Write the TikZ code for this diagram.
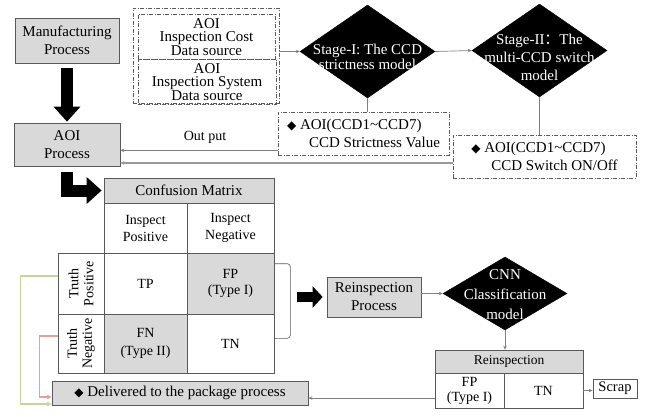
\documentclass[tikz,border=0pt]{standalone}
\usepackage{fontspec}
\setmainfont{Liberation Serif}
\newfontfamily\symfont{DejaVu Sans}
\newfontfamily\cjkfont{Noto Sans CJK SC}
\usetikzlibrary{shapes.geometric,arrows.meta,calc}
\definecolor{boxgray}{HTML}{D9D9D9}
\definecolor{edgegray}{HTML}{595959}
\definecolor{linkgray}{HTML}{7F7F7F}
\definecolor{okgreen}{HTML}{C4D79B}
\definecolor{badred}{HTML}{E6A095}
\newcommand{\szA}{\fontsize{15}{18}\selectfont}
\newcommand{\szB}{\fontsize{14}{17}\selectfont}
\newcommand{\szC}{\fontsize{13.5}{15}\selectfont}
\newcommand{\szS}{\fontsize{15}{13.5}\selectfont}
\newcommand{\bullmark}{{\symfont\fontsize{12}{12}\selectfont ◆}}
\tikzset{
  gbox/.style={draw=edgegray, fill=boxgray, line width=0.7pt, inner sep=0pt, align=center, font=\szA},
  cell/.style={draw=edgegray, line width=0.6pt, inner sep=0pt, align=center, font=\szB},
  gcell/.style={cell, fill=boxgray},
  ddbox/.style={draw=edgegray, line width=0.7pt, dash pattern=on 4pt off 1.5pt on 1pt off 1.5pt, inner sep=0pt, align=center},
  decide/.style={diamond, fill=black, draw=black, inner sep=0pt},
  dtext/.style={text=white, align=center, font=\szA},
  link/.style={draw=linkgray, line width=0.7pt, -{Stealth[length=4pt,width=3.5pt]}},
  link2/.style={draw=linkgray!80, line width=1.2pt, -{Stealth[length=4pt,width=3.5pt]}},
  plain/.style={draw=linkgray, line width=0.7pt},
  feedback/.style={line width=1.2pt, -{Stealth[length=5pt,width=5pt]}},
  bigarrow/.style={line width=12pt, -{Triangle[length=15pt,width=26pt]}},
  midarrow/.style={line width=10pt, -{Triangle[length=10pt,width=21pt]}},
}
\begin{document}
\begin{tikzpicture}[x=1pt,y=-1pt]
\useasboundingbox (0,0) rectangle (654,420);

% process boxes
\node[gbox, minimum width=104pt, minimum height=45pt] (mfg) at (67,40.5) {Manufacturing\\Process};
\node[gbox, minimum width=106pt, minimum height=43pt] (aoi) at (67,144.5) {AOI\\Process};

% data sources
\node[ddbox, minimum width=146pt, minimum height=95pt] (src) at (206,55.5) {};
\node[ddbox, minimum width=137pt, minimum height=45pt, font=\szS] (srca) at (206.5,37) {AOI\\Inspection Cost\\Data source};
\node[ddbox, minimum width=138pt, minimum height=45pt, font=\szS] (srcb) at (207,82) {AOI\\Inspection System\\Data source};

% decision models
\node[decide, minimum width=135pt, minimum height=93pt] (d1) at (367.5,51.5) {};
\node[dtext, font=\fontsize{15}{15}\selectfont] (d1t) at (367.5,57) {Stage-I: The CCD\\strictness model};
\node[decide, minimum width=135pt, minimum height=93pt] (d2) at (539.5,50.5) {};
\node[dtext] (d2t) at (539.5,57) {Stage-II{\cjkfont ：}The\\multi-CCD switch\\model};

% model outputs
\node[ddbox, minimum width=171pt, minimum height=43pt, align=left, font=\szA] (sv) at (363.5,133.5)
  {\bullmark\ AOI(CCD1\textasciitilde CCD7)\\\hspace*{22pt}CCD Strictness Value};
\node[ddbox, minimum width=183pt, minimum height=43pt, align=left, font=\szA] (sw) at (544.5,156.5)
  {\bullmark\ AOI(CCD1\textasciitilde CCD7)\\\hspace*{20pt}CCD Switch ON/Off};

\draw[link] (src.east |- d1.west) -- (d1.west);
\draw[link] (d1.east) -- (d2.west);
\draw[plain] (d1.south) -- (d1.south |- sv.north);
\draw[plain] (d2.south) -- (d2.south |- sw.north);

\coordinate (o1) at ([yshift=5pt]sv.south west);
\draw[link] (o1) -- (aoi.east |- o1);
\node[font=\szB] (outlbl) at (205,137) {Out put};
\coordinate (o2) at ([yshift=-6.5pt]sw.west);
\draw[link2] (o2) -- (aoi.east |- o2);

% flow arrows
\draw[bigarrow, shorten >=1pt] ([yshift=-5pt]mfg.south) -- (aoi.north);

% confusion matrix
\node[gbox, minimum width=170pt, minimum height=25pt] (cmh) at (189,190.5) {Confusion Matrix};
\node[cell, minimum width=83pt, minimum height=50pt] (ip) at (145.5,228) {Inspect\\Positive};
\node[cell, minimum width=87pt, minimum height=50pt] (inn) at (230.5,228) {Inspect\\Negative};
\node[cell, minimum width=83pt, minimum height=61pt] (tp) at (145.5,283.5) {TP};
\node[gcell, minimum width=87pt, minimum height=61pt, font=\fontsize{14}{16}\selectfont] (fp) at (230.5,283.5) {FP\\(Type I)};
\node[gcell, minimum width=83pt, minimum height=59pt, font=\fontsize{14}{18}\selectfont] (fn) at (145.5,343.5) {FN\\(Type II)};
\node[cell, minimum width=87pt, minimum height=59pt] (tn) at (230.5,343.5) {TN};
\node[cell, minimum width=46pt, minimum height=61pt] (tpl) at (81,283.5) {};
\node[cell, minimum width=46pt, minimum height=59pt] (tnl) at (81,343.5) {};
\node[rotate=90, align=center, font=\fontsize{14}{15}\selectfont] (tplt) at (tpl.center) {Truth\\Positive};
\node[rotate=90, align=center, font=\fontsize{14}{15}\selectfont] (tnlt) at (tnl.center) {Truth\\Negative};

\draw[bigarrow, shorten >=2pt] ([yshift=-6pt]aoi.south) |- (cmh.west);

% bracket around the false positive / true negative column
\draw[edgegray, line width=0.6pt, rounded corners=3pt]
  ([yshift=-11pt]fp.north east) -- ++(16,0) |- ([yshift=35pt]tn.south east);

% reinspection branch
\node[gbox, minimum width=94pt, minimum height=40pt] (rp) at (374,297) {Reinspection\\Process};
\coordinate (brk) at (297,297);
\draw[midarrow] (brk) -- ([xshift=-4pt]rp.west);

\node[decide, minimum width=124pt, minimum height=73pt] (cnn) at (505,293.5) {};
\node[dtext, font=\fontsize{15}{20}\selectfont] (cnnt) at (505,295) {CNN\\Classification\\model};
\draw[link] (rp.east |- cnn.west) -- (cnn.west);

\node[gbox, minimum width=148pt, minimum height=23pt, font=\szC] (rth) at (509,361.5) {Reinspection};
\node[cell, minimum width=69pt, minimum height=35pt, font=\fontsize{14}{15}\selectfont] (rfp) at (469.5,390.5) {FP\\(Type I)};
\node[cell, minimum width=79pt, minimum height=35pt] (rtn) at (543.5,390.5) {TN};
\node[cell, minimum width=44pt, minimum height=19pt, font=\fontsize{14.5}{15}\selectfont] (scrap) at (615,388.5) {Scrap};
\draw[link] (cnn.south) -- (cnn.south |- rth.north);
\draw[link] (rtn.east) -- (scrap.west |- rtn.east);

% delivery
\node[gbox, minimum width=256pt, minimum height=24pt] (dl) at (180,393) {\bullmark\ Delivered to the package process};
\coordinate (r1) at ([yshift=-5pt]dl.east);
\draw[link] (rfp.west |- r1) -- (r1);

\draw[feedback, okgreen]
  ([yshift=7.5pt]tpl.west) -- ++(-37,0) |- ([yshift=-11pt]dl.west);
\draw[feedback, badred]
  ([yshift=7.5pt]tnl.west) -- ++(-18,0) |- ([yshift=-4pt]dl.west);
\end{tikzpicture}
\end{document}
